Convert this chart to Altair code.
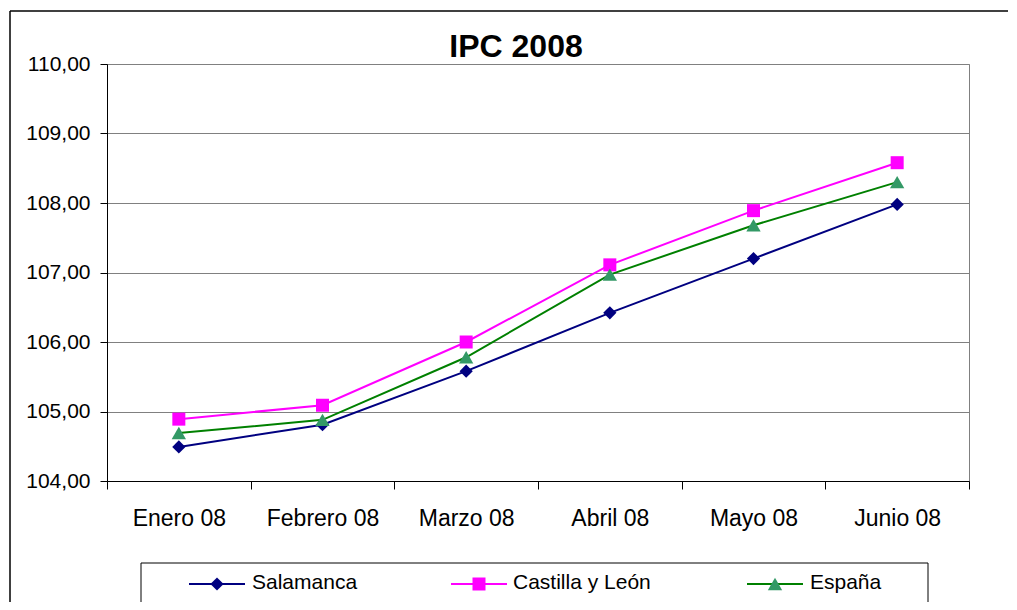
import altair as alt
import pandas as pd

# ---- data ----
months = ["Enero 08", "Febrero 08", "Marzo 08", "Abril 08", "Mayo 08", "Junio 08"]
series = ["Salamanca", "Castilla y León", "España"]
salamanca = [104.49, 104.81, 105.58, 106.42, 107.20, 107.98]
castilla = [104.89, 105.09, 106.00, 107.11, 107.89, 108.58]
espana = [104.69, 104.88, 105.78, 106.97, 107.68, 108.30]
y_ticks = [104, 105, 106, 107, 108, 109, 110]
title_text = "IPC 2008"

# ---- styles ----
line_colors = ["#000080", "#FF00FF", "#008000"]
marker_colors = ["#000080", "#FF00FF", "#339966"]
shapes = ["diamond", "square", "triangle-up"]
sizes = [175, 169, 205]
FONT = "Liberation Sans"
W, H = 862, 417

rows = []
for s, vals in zip(series, [salamanca, castilla, espana]):
    for m, v in zip(months, vals):
        rows.append({"mes": m, "serie": s, "ipc": v})
df = pd.DataFrame(rows)

x_enc = alt.X(
    "mes:N",
    sort=months,
    bandPosition=0.5,
    scale=alt.Scale(type="band", domain=months, paddingInner=0, paddingOuter=0),
    axis=alt.Axis(
        title=None, labelAngle=0, tickBand="extent", tickSize=8, labelPadding=36,
        labelBaseline="alphabetic", labelFontSize=23, labelFont=FONT, labelColor="black",
        grid=False, domainColor="black", tickColor="black", domainWidth=1, tickWidth=1,
    ),
)
y_enc = alt.Y(
    "ipc:Q",
    scale=alt.Scale(domain=[104, 110], nice=False, zero=False),
    axis=alt.Axis(
        title=None, values=y_ticks,
        labelExpr="replace(format(datum.value, '.2f'), '.', ',')",
        grid=True, gridColor="#808080", gridWidth=1, tickSize=7, labelPadding=10,
        labelFontSize=21, labelFont=FONT, labelColor="black",
        domainColor="black", tickColor="black", domainWidth=1, tickWidth=1,
    ),
)

color_scale = alt.Scale(domain=series, range=line_colors)
fill_scale = alt.Scale(domain=series, range=marker_colors)
shape_scale = alt.Scale(domain=series, range=shapes)
size_scale = alt.Scale(type="ordinal", domain=series, range=sizes)

lines = alt.Chart(df).mark_line(strokeWidth=2).encode(
    x=x_enc, y=y_enc,
    color=alt.Color("serie:N", scale=color_scale, legend=None),
)
points = alt.Chart(df).mark_point(filled=True, opacity=1).encode(
    x=x_enc, y=y_enc,
    fill=alt.Fill("serie:N", scale=fill_scale, legend=None),
    shape=alt.Shape("serie:N", scale=shape_scale, legend=None),
    size=alt.Size("serie:O", scale=size_scale, legend=None),
)

one = pd.DataFrame({"a": [0]})

title = alt.Chart(one).mark_text(
    font=FONT, fontSize=32, fontWeight="bold", align="center", baseline="alphabetic", color="black"
).encode(text=alt.value(title_text), x=alt.value(409), y=alt.value(-7))

border_left = alt.Chart(one).mark_rule(color="black", strokeWidth=1.5).encode(
    x=alt.value(-97), y=alt.value(-53), y2=alt.value(560)
)
border_top = alt.Chart(one).mark_rule(color="black", strokeWidth=1.5).encode(
    x=alt.value(-97), x2=alt.value(901), y=alt.value(-53)
)

legend_box = alt.Chart(one).mark_rect(fill="white", stroke="black", strokeWidth=1).encode(
    x=alt.value(34), x2=alt.value(821), y=alt.value(499), y2=alt.value(560)
)

legend_layers = []
sym_centers = [110, 372, 668]
text_starts = [145, 406, 703]
LY = 520
for i, s in enumerate(series):
    cx = sym_centers[i]
    legend_layers.append(
        alt.Chart(one).mark_rule(strokeWidth=2, color=line_colors[i]).encode(
            x=alt.value(cx - 28), x2=alt.value(cx + 28), y=alt.value(LY)
        )
    )
    legend_layers.append(
        alt.Chart(one).mark_point(filled=True, opacity=1, fill=marker_colors[i], shape=shapes[i], size=sizes[i]).encode(
            x=alt.value(cx), y=alt.value(LY)
        )
    )
    legend_layers.append(
        alt.Chart(one).mark_text(font=FONT, fontSize=21, align="left", baseline="middle", color="black").encode(
            text=alt.value(s), x=alt.value(text_starts[i]), y=alt.value(LY - 1)
        )
    )

chart = alt.layer(
    border_left, border_top, lines, points, title, legend_box, *legend_layers
).properties(
    width=W, height=H,
    padding={"left": 99, "top": 56, "right": 40, "bottom": 121},
    autosize=alt.AutoSizeParams(type="none"),
).configure_view(stroke="#808080", strokeWidth=1)

chart.save("out.html", embed_options={"renderer": "svg", "actions": False})
